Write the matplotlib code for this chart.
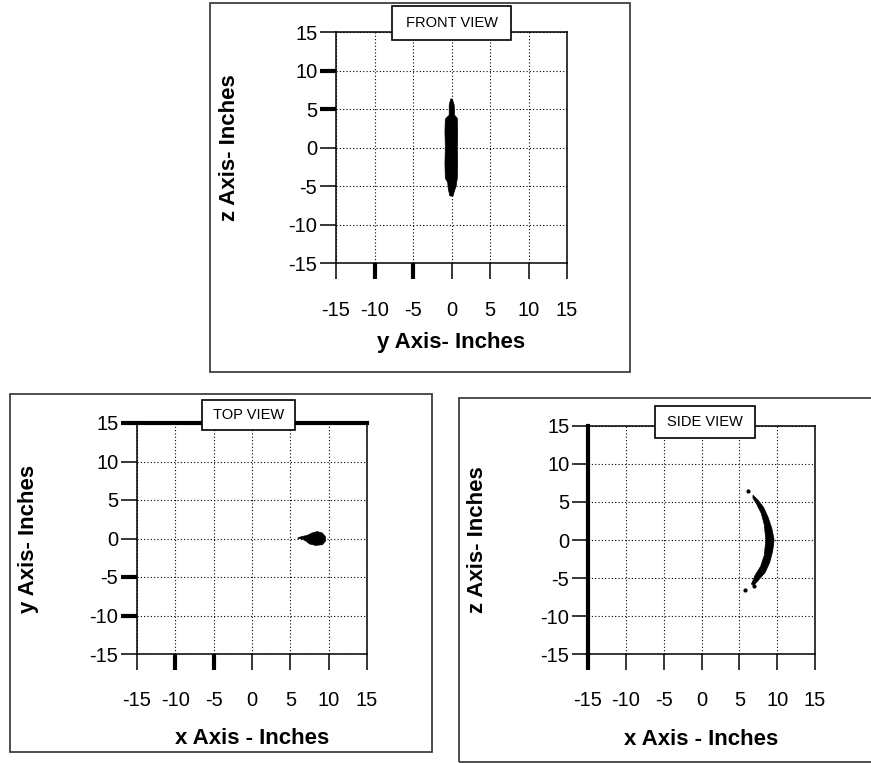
import numpy as np
import matplotlib
matplotlib.use("Agg")
import matplotlib.pyplot as plt
from matplotlib.patches import Rectangle

W, H = 871, 763

ticks = [-15, -10, -5, 0, 5, 10, 15]
tick_labels = ["-15", "-10", "-5", "0", "5", "10", "15"]

# front view blob outline (y, z)
front_y = [0.1, 0.35, 0.4, 0.75, 0.8, 0.75, 0.8, 0.75, 0.6, 0.4, 0.2,
           -0.2, -0.4, -0.5, -0.8, -0.85, -0.8, -0.85, -0.8, -0.3, -0.3, -0.1]
front_z = [6.3, 5.5, 4.2, 3.8, 2.0, 0.0, -2.0, -4.0, -5.0, -5.6, -6.3,
           -6.3, -5.5, -4.5, -4.0, -2.0, 0.0, 2.0, 3.7, 4.2, 5.5, 6.3]

# top view teardrop outline (x, y)
top_x = [6.0, 6.5, 7.2, 7.8, 8.5, 9.2, 9.6, 9.6, 9.2, 8.3, 7.5, 7.0, 6.5, 6.0]
top_y = [0.1, 0.25, 0.4, 0.7, 0.9, 0.7, 0.2, -0.3, -0.8, -0.9, -0.7, -0.3, -0.05, 0.0]

# side view crescent outline (x, z)
side_x = [6.8, 7.5, 8.2, 8.8, 9.3, 9.6, 9.4, 9.0, 8.4, 7.6, 6.9, 6.6,
          7.1, 7.8, 8.3, 8.5, 8.3, 7.9, 7.3, 6.8]
side_z = [5.9, 5.2, 4.3, 3.0, 1.5, 0.0, -1.5, -3.0, -4.3, -5.2, -6.0, -5.8,
          -4.6, -3.5, -2.0, 0.0, 2.0, 3.5, 4.7, 5.5]
side_dots_x = [6.2, 5.7, 7.0]
side_dots_z = [6.4, -6.6, -6.1]

plt.rcParams['font.family'] = ['Liberation Sans', 'DejaVu Sans']

fig = plt.figure(figsize=(W / 100, H / 100), dpi=100)


def px_rect(x0, y0, x1, y1):
    # pixel box (top-left origin) -> figure fraction [l, b, w, h]
    return [x0 / W, 1 - y1 / H, (x1 - x0) / W, (y1 - y0) / H]


def panel(x0, y0, x1, y1):
    l, b, w, h = px_rect(x0, y0, x1, y1)
    fig.patches.append(Rectangle((l, b), w, h, transform=fig.transFigure,
                                 fill=False, ec='#404040', lw=1.3, zorder=0))


def title_box(x0, y0, x1, y1, text):
    l, b, w, h = px_rect(x0, y0, x1, y1)
    fig.patches.append(Rectangle((l, b), w, h, transform=fig.transFigure,
                                 fc='white', ec='black', lw=1.2, zorder=5))
    fig.text(l + w / 2, b + h / 2, text, ha='center', va='center',
             fontsize=10.5, zorder=6)


def make_axes(box, xlab, ylab, xlab_y, ylab_x, thick_x, thick_y):
    ax = fig.add_axes(px_rect(*box))
    ax.set_xlim(-15, 15)
    ax.set_ylim(-15, 15)
    ax.set_xticks(ticks)
    ax.set_yticks(ticks)
    ax.set_xticklabels(tick_labels)
    ax.set_yticklabels(tick_labels)
    ax.tick_params(direction='out', length=11.5, width=1.1, color='black',
                   labelsize=14.5)
    ax.tick_params(axis='x', pad=15.5)
    ax.tick_params(axis='y', pad=2)
    for s in ax.spines.values():
        s.set_linewidth(1.1)
        s.set_color('black')
    ax.grid(True, color='black', linestyle=(0, (1, 2)), linewidth=0.8)
    ax.set_axisbelow(True)
    for i in thick_x:
        ax.xaxis.get_major_ticks()[i].tick1line.set_markeredgewidth(3)
    for i in thick_y:
        ax.yaxis.get_major_ticks()[i].tick1line.set_markeredgewidth(3)
    ax.set_xlabel(xlab, fontsize=16, fontweight='bold', va='center')
    ax.set_ylabel(ylab, fontsize=16, fontweight='bold', va='center')
    ax.xaxis.set_label_coords(0.5, xlab_y)
    ax.yaxis.set_label_coords(ylab_x, 0.5)
    return ax


# front view
panel(210, 3, 630, 372)
ax1 = make_axes((336, 32, 567, 263), "y Axis- Inches", "z Axis- Inches",
                -0.345, -0.463, thick_x=[1, 2], thick_y=[4, 5])
ax1.fill(front_y, front_z, color='black', lw=0.5, zorder=3)
title_box(392, 6, 511, 40, "FRONT VIEW")

# top view
panel(10, 394, 432, 752)
ax2 = make_axes((137, 423, 367, 654), "x Axis - Inches", "y Axis- Inches",
                -0.364, -0.472, thick_x=[1, 2], thick_y=[1, 2, 6])
ax2.spines['top'].set_linewidth(3)
ax2.fill(top_x, top_y, color='black', lw=0.5, zorder=3)
title_box(202, 400, 295, 430, "TOP VIEW")

# side view
panel(459, 398, 872, 762)
ax3 = make_axes((588, 426, 815, 654), "x Axis - Inches", "z Axis- Inches",
                -0.375, -0.487, thick_x=[0], thick_y=[])
ax3.spines['left'].set_linewidth(3)
ax3.fill(side_x, side_z, color='black', lw=0.5, zorder=3)
ax3.scatter(side_dots_x, side_dots_z, s=4, color='black', zorder=3)
title_box(655, 406, 755, 438, "SIDE VIEW")

fig.savefig("out.png", dpi=100)
